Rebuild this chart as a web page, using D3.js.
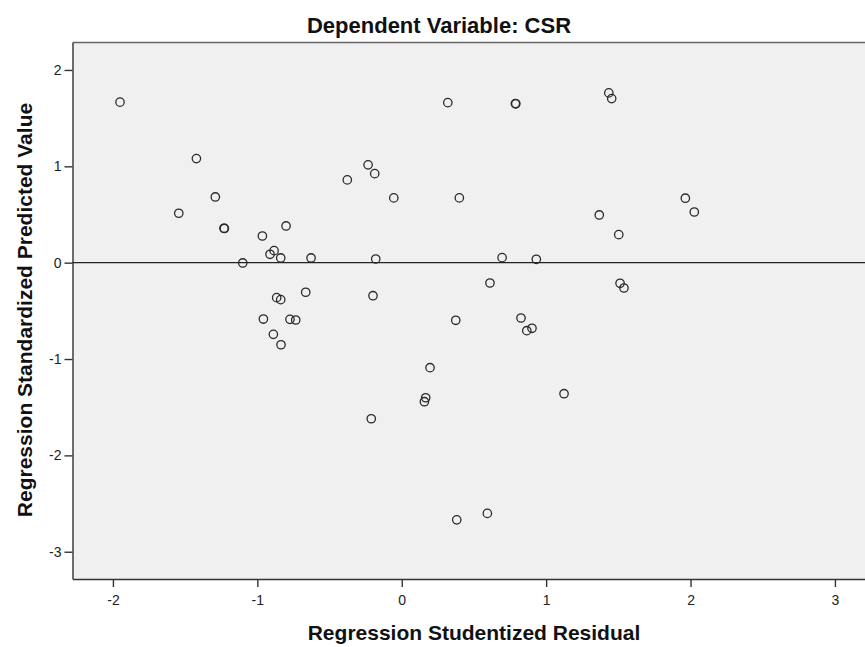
<!DOCTYPE html>
<html lang="en">
<head>
<meta charset="UTF-8">
<title>Scatterplot - Dependent Variable: CSR</title>
<script src="https://d3js.org/d3.v7.min.js"></script>
<style>
  body { margin: 0; background: #fff; }
  svg { display: block; font-family: Arial, "Liberation Sans", sans-serif; }
  .axis path, .axis line { stroke: #333; stroke-width: 1.4px; }
  .axis text { font-size: 14px; fill: #222; }
  .ttl { font-weight: bold; fill: #111; }
</style>
</head>
<body>
<svg id="chart" width="865" height="647"></svg>
<script>
// studentized residual (x) and standardized predicted value (y)
var residual = [-1.951, -1.422, -1.291, -1.544, -1.231, -1.228, -0.965, -0.801, -0.884, -0.912,
  -0.838, -0.628, -1.101, -0.377, -0.665, -0.866, -0.838, -0.958, -0.774, -0.734,
  -0.889, -0.836, 0.319, 0.787, 0.790, -0.233, -0.187, -0.055, 0.399, -0.180,
  0.695, 0.932, 0.611, -0.199, 0.374, 0.826, 0.902, 0.866, 0.196, 0.166,
  0.157, 1.124, -0.211, 0.381, 0.593, 1.434, 1.454, 1.964, 2.026, 1.368,
  1.503, 1.512, 1.539];
var predicted = [1.666, 1.080, 0.682, 0.513, 0.357, 0.355, 0.277, 0.381, 0.125, 0.087,
  0.049, 0.049, -0.003, 0.859, -0.307, -0.363, -0.384, -0.585, -0.588, -0.595,
  -0.744, -0.852, 1.661, 1.651, 1.649, 1.015, 0.924, 0.672, 0.672, 0.038,
  0.052, 0.035, -0.211, -0.343, -0.598, -0.574, -0.681, -0.706, -1.090, -1.402,
  -1.443, -1.360, -1.620, -2.669, -2.602, 1.762, 1.703, 0.669, 0.526, 0.495,
  0.291, -0.214, -0.263];
var xTicks = [-2, -1, 0, 1, 2, 3];
var yTicks = [-3, -2, -1, 0, 1, 2];

var plotL = 72.5, plotT = 42.5, plotR = 878, plotB = 579;
var svg = d3.select("#chart");

var x = d3.scaleLinear().domain([-2.28, 3.3]).range([plotL, plotR]);
var y = d3.scaleLinear().domain([-3.283, 2.285]).range([plotB, plotT]);
x.range([plotL, x.range()[0] + (3.3 + 2.28) * 144.4]); // keep 144.4 px per unit
var fmt = function(d) { return d < 0 ? "-" + Math.abs(d) : String(d); };

// plot background
svg.append("rect")
  .attr("x", plotL).attr("y", plotT)
  .attr("width", plotR - plotL).attr("height", plotB - plotT)
  .attr("fill", "#f0f0f0");

// top frame line
svg.append("line")
  .attr("x1", plotL).attr("x2", plotR).attr("y1", plotT).attr("y2", plotT)
  .attr("stroke", "#666").attr("stroke-width", 1.5);

// axes
svg.append("g").attr("class", "axis")
  .attr("transform", "translate(0," + plotB + ")")
  .call(d3.axisBottom(x).tickValues(xTicks).tickFormat(fmt).tickSize(8).tickPadding(8).tickSizeOuter(0));
svg.append("g").attr("class", "axis")
  .attr("transform", "translate(" + plotL + ",0)")
  .call(d3.axisLeft(y).tickValues(yTicks).tickFormat(fmt).tickSize(8).tickPadding(3).tickSizeOuter(0));

// reference line at 0
svg.append("line")
  .attr("x1", plotL).attr("x2", plotR)
  .attr("y1", y(0)).attr("y2", y(0))
  .attr("stroke", "#222").attr("stroke-width", 1.3);

// points
svg.append("g").selectAll("circle")
  .data(residual)
  .enter()
  .append("circle")
  .attr("cx", function(d) { return x(d); })
  .attr("cy", function(d, i) { return y(predicted[i]); })
  .attr("r", 4.2)
  .attr("fill", "none")
  .attr("stroke", "#2a2a2a")
  .attr("stroke-width", 1.3);

// titles
svg.append("text").attr("class", "ttl")
  .attr("x", 439).attr("y", 33).attr("text-anchor", "middle")
  .style("font-size", "22px")
  .text("Dependent Variable: CSR");
svg.append("text").attr("class", "ttl")
  .attr("x", 474).attr("y", 640).attr("text-anchor", "middle")
  .style("font-size", "21px")
  .text("Regression Studentized Residual");
svg.append("text").attr("class", "ttl")
  .attr("transform", "translate(32,310) rotate(-90)")
  .attr("text-anchor", "middle")
  .style("font-size", "21px")
  .text("Regression Standardized Predicted Value");
</script>
</body>
</html>
